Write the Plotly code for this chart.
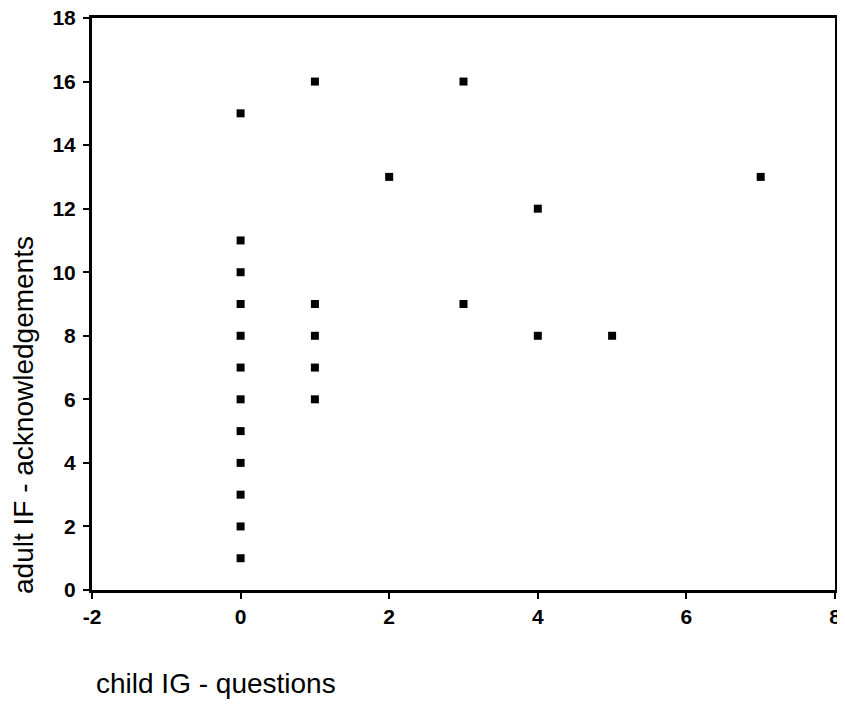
import plotly.graph_objects as go

child_ig_questions = [0, 1, 3, 2, 4, 7, 0, 0, 0, 0, 0, 0, 0, 0, 0, 0, 0, 1, 1, 1, 1, 3, 4, 5]
adult_if_acknowledgements = [15, 16, 16, 13, 12, 13, 11, 10, 9, 8, 7, 6, 5, 4, 3, 2, 1, 9, 8, 7, 6, 9, 8, 8]

x_tick_vals = [-2, 0, 2, 4, 6, 8]
x_tick_text = ["-2", "0", "2", "4", "6", "8"]
y_tick_vals = [0, 2, 4, 6, 8, 10, 12, 14, 16, 18]

x_title = "child IG - questions"
y_title = "adult IF - acknowledgements"

FONT = "Liberation Sans, Arial, sans-serif"

fig = go.Figure()
fig.add_trace(go.Scatter(
    x=child_ig_questions, y=adult_if_acknowledgements, mode="markers",
    marker=dict(symbol="square", size=8, color="black"),
    showlegend=False, hoverinfo="x+y", cliponaxis=False))

axis_common = dict(
    showgrid=False, zeroline=False, showline=True, linecolor="black", linewidth=3,
    mirror=True, ticks="outside", ticklen=6, tickwidth=2, tickcolor="black",
    automargin=False, ticklabeloverflow="allow",
    tickfont=dict(family=FONT, size=21, color="black", weight="bold"),
)
fig.update_xaxes(range=[-2, 8], tickvals=x_tick_vals, ticktext=x_tick_text, **axis_common)
fig.update_yaxes(range=[0, 18], tickvals=y_tick_vals, ticklabelstandoff=3, **axis_common)

fig.update_layout(
    width=845, height=704,
    margin=dict(l=84, r=18, t=10, b=122),
    plot_bgcolor="white", paper_bgcolor="white",
    font=dict(family=FONT, color="black"),
    annotations=[
        dict(text=x_title, xref="paper", yref="paper", x=0.003, y=-0.163,
             xanchor="left", yanchor="middle", showarrow=False,
             font=dict(family=FONT, size=28, color="black")),
        dict(text=y_title, xref="paper", yref="paper", x=-0.0915, y=0.306,
             xanchor="center", yanchor="middle", textangle=-90, showarrow=False,
             font=dict(family=FONT, size=28, color="black")),
    ],
)

fig.write_html("out.html")
